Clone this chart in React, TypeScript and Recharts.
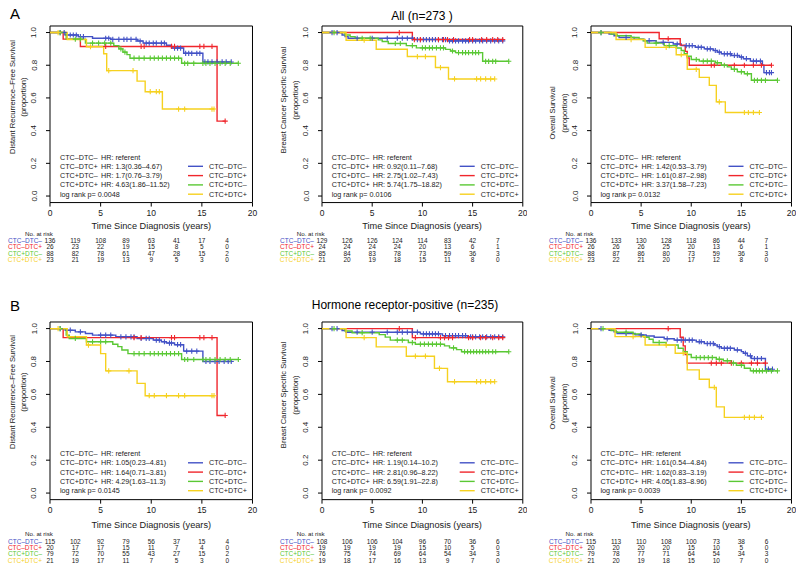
import React from 'react';
import { ComposedChart, Line, Scatter, XAxis, YAxis, ReferenceArea } from 'recharts';

const FONT = '"Liberation Sans", Arial, Helvetica, sans-serif';
const GROUPS = ['CTC–DTC–', 'CTC–DTC+', 'CTC+DTC–', 'CTC+DTC+'];
const GROUP_COLORS = ['#4352C6', '#F0262C', '#5AC834', '#F6D11F'];
const TIME_TICKS = [0, 5, 10, 15, 20];
const RISK_TIMES = [0, 2.5, 5, 7.5, 10, 12.5, 15, 17.5];
const SURV_TICKS = [0, 0.2, 0.4, 0.6, 0.8, 1.0];

// ================= A: All (n=273) =================
// Distant recurrence-free survival
const drfsAllNNSteps = [[1.5, 0.985], [2.8, 0.975], [4.2, 0.965], [6.0, 0.958], [8.6, 0.948], [9.2, 0.935], [11.5, 0.922], [12.0, 0.905], [13.2, 0.873], [15.1, 0.82]];
const drfsAllNNCens = [1.0, 1.4, 2.0, 2.3, 2.6, 3.0, 3.3, 5.5, 5.8, 6.2, 6.8, 7.3, 7.6, 8.0, 8.5, 8.9, 9.5, 9.8, 10.2, 10.5, 11.0, 11.3, 12.3, 12.6, 12.9, 13.4, 13.7, 14.0, 14.5, 14.8, 15.3, 15.6, 16.0, 16.5, 17.0, 17.4, 17.9];
const drfsAllNPSteps = [[1.3, 0.96], [3.0, 0.915], [16.5, 0.458]];
const drfsAllNPCens = [5.5, 9.0, 9.3, 12.0, 12.3, 14.8, 15.2, 16.0, 17.3];
const drfsAllPNSteps = [[1.6, 0.96], [3.5, 0.935], [6.3, 0.92], [6.8, 0.9], [7.2, 0.88], [7.6, 0.865], [7.9, 0.843], [13.0, 0.812]];
const drfsAllPNCens = [1.0, 2.5, 3.0, 4.2, 4.8, 5.4, 6.0, 7.0, 7.4, 8.3, 8.8, 9.3, 9.9, 10.3, 10.7, 11.1, 11.5, 11.9, 12.3, 12.7, 13.3, 13.6, 14.2, 15.1, 15.4, 15.8, 16.3, 16.8, 17.3, 17.8, 18.6];
const drfsAllPPSteps = [[1.7, 0.957], [3.6, 0.913], [5.3, 0.87], [5.6, 0.767], [8.6, 0.703], [9.4, 0.638], [11.1, 0.532]];
const drfsAllPPCens = [0.8, 4.0, 5.8, 8.2, 9.9, 10.5, 10.8, 12.7, 13.3, 16.0, 16.2];
const drfsAllEnds = [17.9, 17.3, 18.6, 16.2];
const drfsAllHR = ['referent', '1.3(0.36–4.67)', '1.7(0.76–3.79)', '4.63(1.86–11.52)'];
const drfsAllP = '0.0048';
const drfsAllRiskNN = [136, 119, 108, 89, 63, 41, 17, 4];
const drfsAllRiskNP = [26, 23, 22, 19, 15, 8, 5, 0];
const drfsAllRiskPN = [88, 82, 78, 61, 47, 28, 15, 2];
const drfsAllRiskPP = [23, 21, 19, 13, 9, 5, 3, 0];

// Breast cancer specific survival
const bcssAllNNSteps = [[2.0, 0.985], [2.3, 0.975], [2.6, 0.965], [9.2, 0.957], [12.5, 0.949]];
const bcssAllNNCens = [1.0, 1.5, 3.5, 5.0, 6.5, 7.5, 8.0, 8.5, 9.0, 9.5, 9.8, 10.1, 10.4, 10.7, 11.0, 11.3, 11.6, 12.0, 12.3, 12.7, 13.0, 13.3, 13.6, 14.0, 14.3, 14.6, 15.0, 15.3, 15.7, 16.0, 16.4, 16.8, 17.2, 17.6, 18.0];
const bcssAllNPSteps = [[9.0, 0.957]];
const bcssAllNPCens = [7.7, 9.2, 9.8, 11.6, 12.1, 12.5, 13.1, 14.7, 15.0, 15.9, 16.4, 17.0, 17.5, 18.0];
const bcssAllPNSteps = [[2.3, 0.985], [2.8, 0.975], [3.3, 0.965], [5.6, 0.955], [6.0, 0.945], [6.6, 0.933], [8.4, 0.92], [9.4, 0.906], [12.3, 0.897], [12.8, 0.887], [13.3, 0.877], [16.0, 0.824]];
const bcssAllPNCens = [1.2, 4.0, 4.8, 7.3, 7.8, 9.0, 10.0, 10.3, 10.7, 11.0, 11.4, 11.8, 12.1, 13.0, 13.6, 14.0, 14.3, 14.6, 15.0, 15.3, 15.6, 16.3, 16.6, 17.0, 17.3, 18.6];
const bcssAllPPSteps = [[2.4, 0.953], [5.4, 0.898], [8.5, 0.853], [11.3, 0.786], [12.6, 0.716]];
const bcssAllPPCens = [4.2, 9.5, 10.3, 11.8, 13.2, 15.4, 15.8, 16.3, 16.8, 17.2];
const bcssAllEnds = [18.0, 18.0, 18.6, 17.2];
const bcssAllHR = ['referent', '0.92(0.11–7.68)', '2.75(1.02–7.43)', '5.74(1.75–18.82)'];
const bcssAllP = '0.0106';
const bcssAllRiskNN = [129, 126, 126, 124, 114, 83, 42, 7];
const bcssAllRiskNP = [24, 24, 24, 24, 20, 13, 6, 1];
const bcssAllRiskPN = [85, 84, 83, 78, 73, 59, 36, 3];
const bcssAllRiskPP = [21, 20, 19, 18, 15, 11, 8, 0];

// Overall survival
const osAllNNSteps = [[1.8, 0.99], [2.3, 0.98], [2.8, 0.97], [4.3, 0.96], [5.3, 0.95], [6.5, 0.94], [8.2, 0.93], [9.0, 0.92], [10.4, 0.91], [11.3, 0.9], [12.2, 0.89], [12.6, 0.88], [13.0, 0.87], [14.0, 0.86], [14.8, 0.85], [15.2, 0.84], [15.9, 0.825], [17.1, 0.8], [17.25, 0.755]];
const osAllNNCens = [1.0, 3.5, 5.8, 7.2, 8.6, 9.5, 9.8, 10.1, 10.7, 11.0, 11.6, 11.9, 12.4, 12.8, 13.3, 13.6, 13.9, 14.3, 14.6, 15.0, 15.5, 16.2, 16.5, 16.9, 17.5, 17.8, 18.0];
const osAllNPSteps = [[6.8, 0.962], [8.9, 0.923], [9.4, 0.885], [9.6, 0.845], [9.8, 0.8]];
const osAllNPCens = [7.7, 12.0, 12.3, 14.3, 15.3, 16.2, 17.0, 18.0];
const osAllPNSteps = [[2.0, 0.99], [2.6, 0.98], [4.0, 0.97], [4.8, 0.96], [5.2, 0.95], [5.6, 0.935], [7.3, 0.92], [8.5, 0.905], [9.0, 0.89], [9.3, 0.87], [9.6, 0.855], [10.0, 0.835], [10.8, 0.825], [12.4, 0.815], [13.0, 0.8], [13.6, 0.79], [14.0, 0.775], [14.6, 0.76], [15.3, 0.748], [16.0, 0.708]];
const osAllPNCens = [1.0, 6.5, 7.8, 10.5, 11.2, 11.6, 12.0, 12.6, 13.3, 14.3, 15.0, 15.6, 16.3, 16.6, 17.0, 17.4, 18.6];
const osAllPPSteps = [[2.5, 0.957], [5.4, 0.909], [8.5, 0.864], [9.6, 0.775], [10.8, 0.726], [11.8, 0.677], [12.5, 0.576], [13.4, 0.511]];
const osAllPPCens = [4.0, 7.5, 9.0, 10.5, 12.8, 15.3, 15.7, 16.2, 16.8];
const osAllEnds = [18.0, 18.0, 18.6, 16.8];
const osAllHR = ['referent', '1.42(0.53–3.79)', '1.61(0.87–2.98)', '3.37(1.58–7.23)'];
const osAllP = '0.0132';
const osAllRiskNN = [136, 133, 130, 128, 118, 86, 44, 7];
const osAllRiskNP = [26, 26, 26, 25, 20, 13, 6, 1];
const osAllRiskPN = [88, 87, 86, 80, 73, 59, 36, 3];
const osAllRiskPP = [23, 22, 21, 20, 17, 12, 8, 0];

// ================= B: Hormone receptor-positive (n=235) =================
const drfsHrNNSteps = [[1.5, 0.99], [2.5, 0.98], [3.5, 0.97], [4.2, 0.96], [6.5, 0.95], [8.6, 0.94], [10.2, 0.93], [11.0, 0.92], [11.5, 0.912], [12.3, 0.902], [13.2, 0.863], [15.1, 0.8]];
const drfsHrNNCens = [1.0, 2.0, 3.0, 5.0, 5.5, 6.0, 7.0, 7.5, 8.0, 8.3, 9.0, 9.5, 9.8, 10.5, 10.8, 11.3, 11.8, 12.0, 12.6, 12.9, 13.5, 14.0, 14.5, 15.4, 15.8, 16.3, 16.7, 17.2, 17.6, 17.9];
const drfsHrNPSteps = [[1.3, 0.945], [16.5, 0.472]];
const drfsHrNPCens = [8.3, 9.0, 12.0, 12.3, 14.8, 15.2, 16.0, 17.3];
const drfsHrPNSteps = [[1.6, 0.96], [1.9, 0.94], [3.6, 0.92], [6.2, 0.905], [6.7, 0.89], [7.1, 0.87], [7.7, 0.848], [13.0, 0.812]];
const drfsHrPNCens = [1.0, 2.5, 4.2, 5.0, 5.5, 8.3, 8.8, 9.3, 9.9, 10.3, 10.7, 11.1, 11.5, 11.9, 12.3, 12.7, 13.3, 13.6, 14.2, 15.1, 15.4, 15.8, 16.3, 16.8, 17.3, 17.8, 18.6];
const drfsHrPPSteps = [[1.7, 0.95], [3.6, 0.9], [5.0, 0.848], [5.5, 0.743], [8.6, 0.667], [9.4, 0.592]];
const drfsHrPPCens = [0.8, 3.8, 5.8, 7.8, 9.8, 10.3, 11.5, 12.7, 13.3, 16.0, 16.2];
const drfsHrEnds = [17.9, 17.3, 18.6, 16.2];
const drfsHrHR = ['referent', '1.05(0.23–4.81)', '1.64(0.71–3.81)', '4.29(1.63–11.3)'];
const drfsHrP = '0.0145';
const drfsHrRiskNN = [115, 102, 92, 79, 56, 37, 15, 4];
const drfsHrRiskNP = [20, 17, 17, 15, 11, 7, 4, 0];
const drfsHrRiskPN = [79, 72, 70, 55, 43, 27, 15, 2];
const drfsHrRiskPP = [21, 19, 17, 11, 7, 5, 3, 0];

const bcssHrNNSteps = [[2.0, 0.988], [2.4, 0.978], [9.8, 0.968], [12.0, 0.957], [14.5, 0.95]];
const bcssHrNNCens = [1.0, 1.5, 3.5, 5.0, 6.5, 7.5, 8.0, 8.5, 9.0, 9.5, 10.1, 10.4, 10.7, 11.0, 11.3, 11.6, 12.3, 12.7, 13.0, 13.3, 13.6, 14.0, 14.3, 14.8, 15.0, 15.3, 15.7, 16.0, 16.4, 16.8, 17.2, 17.6, 18.0];
const bcssHrNPSteps = [[9.0, 0.945]];
const bcssHrNPCens = [7.7, 9.3, 11.8, 12.2, 12.6, 13.0, 14.6, 15.0, 15.8, 16.3, 17.0, 17.6, 18.0];
const bcssHrPNSteps = [[2.3, 0.985], [3.0, 0.975], [5.7, 0.963], [6.3, 0.948], [6.8, 0.93], [8.6, 0.915], [9.3, 0.905], [12.2, 0.895], [12.7, 0.883], [13.4, 0.872], [13.9, 0.859]];
const bcssHrPNCens = [1.2, 4.0, 7.5, 8.0, 9.0, 9.8, 10.2, 10.6, 11.0, 11.4, 11.8, 13.1, 14.2, 14.5, 14.8, 15.1, 15.4, 15.7, 16.0, 16.3, 16.6, 17.0, 17.3, 18.6];
const bcssHrPPSteps = [[2.4, 0.945], [5.4, 0.889], [8.4, 0.832], [11.2, 0.758], [12.5, 0.677]];
const bcssHrPPCens = [4.2, 9.3, 10.3, 11.7, 13.2, 15.4, 15.8, 16.3, 16.8, 17.2];
const bcssHrEnds = [18.0, 18.0, 18.6, 17.2];
const bcssHrHR = ['referent', '1.19(0.14–10.2)', '2.81(0.96–8.22)', '6.59(1.91–22.8)'];
const bcssHrP = '0.0092';
const bcssHrRiskNN = [108, 106, 106, 104, 96, 70, 36, 6];
const bcssHrRiskNP = [19, 19, 19, 19, 15, 10, 5, 0];
const bcssHrRiskPN = [76, 75, 74, 69, 64, 54, 34, 3];
const bcssHrRiskPP = [19, 18, 17, 16, 13, 9, 7, 0];

const osHrNNSteps = [[1.8, 0.99], [2.3, 0.98], [2.6, 0.97], [4.4, 0.962], [5.5, 0.955], [6.3, 0.947], [7.3, 0.938], [8.3, 0.93], [10.5, 0.92], [11.3, 0.909], [12.3, 0.9], [12.6, 0.89], [13.0, 0.88], [14.3, 0.87], [15.0, 0.86], [15.2, 0.85], [15.6, 0.834], [16.0, 0.818], [17.4, 0.753]];
const osHrNNCens = [1.0, 3.5, 5.0, 7.6, 8.6, 9.0, 9.4, 9.8, 10.1, 10.8, 11.0, 11.6, 11.9, 12.2, 12.8, 13.3, 13.6, 13.9, 14.6, 15.4, 15.9, 16.3, 16.6, 17.0, 17.7, 18.1];
const osHrNPSteps = [[8.9, 0.947], [9.2, 0.895], [9.4, 0.842], [9.6, 0.79]];
const osHrNPCens = [7.7, 12.0, 12.5, 13.0, 14.0, 15.0, 16.0, 16.6, 17.4];
const osHrPNSteps = [[2.0, 0.988], [2.5, 0.978], [4.2, 0.967], [5.0, 0.957], [5.3, 0.947], [5.8, 0.935], [6.2, 0.915], [7.5, 0.9], [8.7, 0.88], [9.2, 0.86], [9.6, 0.842], [10.0, 0.824], [12.5, 0.814], [13.2, 0.804], [14.0, 0.79], [14.5, 0.777], [15.3, 0.759], [15.9, 0.743]];
const osHrPNCens = [1.2, 3.5, 6.8, 10.5, 10.9, 11.3, 11.7, 12.1, 12.8, 13.6, 14.2, 15.0, 16.2, 16.5, 16.8, 17.1, 17.5, 18.0, 18.6];
const osHrPPSteps = [[2.4, 0.951], [5.4, 0.9], [8.4, 0.85], [9.6, 0.749], [10.8, 0.692], [11.8, 0.642], [12.5, 0.524], [13.3, 0.46]];
const osHrPPCens = [4.2, 7.5, 9.2, 12.3, 15.3, 15.8, 16.3, 17.0];
const osHrEnds = [18.1, 17.4, 18.6, 17.0];
const osHrHR = ['referent', '1.61(0.54–4.84)', '1.62(0.83–3.19)', '4.05(1.83–8.96)'];
const osHrP = '0.0039';
const osHrRiskNN = [115, 113, 110, 108, 100, 73, 38, 6];
const osHrRiskNP = [20, 20, 20, 20, 15, 10, 5, 0];
const osHrRiskPN = [79, 78, 77, 71, 64, 54, 34, 3];
const osHrRiskPP = [21, 20, 19, 18, 15, 10, 7, 0];

const YLAB_DRFS = 'Distant Recurrence–Free Survival';
const YLAB_BCSS = 'Breast Cancer Specific Survival';
const YLAB_OS = 'Overall Survival';
const TITLE_A = 'All (n=273 )';
const TITLE_B = 'Hormone receptor-positive (n=235)';
const X_TITLE = 'Time Since Diagnosis (years)';

type Step = number[];
interface PanelData {
  ylab: string;
  steps: Step[][];
  cens: number[][];
  ends: number[];
  hr: string[];
  p: string;
  risk: number[][];
}

const PANEL_A1: PanelData = { ylab: YLAB_DRFS, steps: [drfsAllNNSteps, drfsAllNPSteps, drfsAllPNSteps, drfsAllPPSteps], cens: [drfsAllNNCens, drfsAllNPCens, drfsAllPNCens, drfsAllPPCens], ends: drfsAllEnds, hr: drfsAllHR, p: drfsAllP, risk: [drfsAllRiskNN, drfsAllRiskNP, drfsAllRiskPN, drfsAllRiskPP] };
const PANEL_A2: PanelData = { ylab: YLAB_BCSS, steps: [bcssAllNNSteps, bcssAllNPSteps, bcssAllPNSteps, bcssAllPPSteps], cens: [bcssAllNNCens, bcssAllNPCens, bcssAllPNCens, bcssAllPPCens], ends: bcssAllEnds, hr: bcssAllHR, p: bcssAllP, risk: [bcssAllRiskNN, bcssAllRiskNP, bcssAllRiskPN, bcssAllRiskPP] };
const PANEL_A3: PanelData = { ylab: YLAB_OS, steps: [osAllNNSteps, osAllNPSteps, osAllPNSteps, osAllPPSteps], cens: [osAllNNCens, osAllNPCens, osAllPNCens, osAllPPCens], ends: osAllEnds, hr: osAllHR, p: osAllP, risk: [osAllRiskNN, osAllRiskNP, osAllRiskPN, osAllRiskPP] };
const PANEL_B1: PanelData = { ylab: YLAB_DRFS, steps: [drfsHrNNSteps, drfsHrNPSteps, drfsHrPNSteps, drfsHrPPSteps], cens: [drfsHrNNCens, drfsHrNPCens, drfsHrPNCens, drfsHrPPCens], ends: drfsHrEnds, hr: drfsHrHR, p: drfsHrP, risk: [drfsHrRiskNN, drfsHrRiskNP, drfsHrRiskPN, drfsHrRiskPP] };
const PANEL_B2: PanelData = { ylab: YLAB_BCSS, steps: [bcssHrNNSteps, bcssHrNPSteps, bcssHrPNSteps, bcssHrPPSteps], cens: [bcssHrNNCens, bcssHrNPCens, bcssHrPNCens, bcssHrPPCens], ends: bcssHrEnds, hr: bcssHrHR, p: bcssHrP, risk: [bcssHrRiskNN, bcssHrRiskNP, bcssHrRiskPN, bcssHrRiskPP] };
const PANEL_B3: PanelData = { ylab: YLAB_OS, steps: [osHrNNSteps, osHrNPSteps, osHrPNSteps, osHrPPSteps], cens: [osHrNNCens, osHrNPCens, osHrPNCens, osHrPPCens], ends: osHrEnds, hr: osHrHR, p: osHrP, risk: [osHrRiskNN, osHrRiskNP, osHrRiskPN, osHrRiskPP] };

// ---------------- layout (pixels) ----------------
const RH = 6.4;
const ROW_A = { y1: 33, y0: 196.5, mainH: 34.8, xTitleY: 226 };
const ROW_B = { y1: 328.5, y0: 493, mainH: 38.2, xTitleY: 525 };
const COL_1 = { left: 50, right: 252.5 };
const COL_2 = { left: 321.7, right: 522.5 };
const COL_3 = { left: 590.5, right: 791 };
const YW = 50;
const MARGIN = { top: 5, right: 5, left: 0, bottom: 4 };
const TXT = '#1a1a1a';
const RISK_FONT = 6.2;

function buildLine(steps: Step[], end: number) {
  const pts = [{ t: 0, s: 1 }];
  for (const [t, s] of steps) pts.push({ t, s });
  const last = steps.length ? steps[steps.length - 1][1] : 1;
  pts.push({ t: end, s: last });
  return pts;
}
function survAt(steps: Step[], t: number) {
  let s = 1;
  for (const [ts, v] of steps) if (ts <= t) s = v;
  return s;
}

const plusShape = (color: string) => (props: any) => {
  const { cx, cy } = props;
  if (cx == null || cy == null) return <g />;
  return <path d={`M${cx - 2.6},${cy}H${cx + 2.6}M${cx},${cy - 2.6}V${cy + 2.6}`} stroke={color} strokeWidth={1.1} fill="none" />;
};
const emptyShape = () => <g />;

const YTick = (p: any) => (
  <text x={p.x} y={p.y} transform={`rotate(-90 ${p.x} ${p.y})`} textAnchor="middle" dominantBaseline="central" fontSize={8} fill={TXT} fontFamily={FONT}>
    {Number(p.payload.value).toFixed(1)}
  </text>
);
const XTick = (p: any) => (
  <text x={p.x} y={p.y + 6} textAnchor="middle" dominantBaseline="central" fontSize={8.5} fill={TXT} fontFamily={FONT}>
    {p.payload.value}
  </text>
);
const riskTick = (values: number[], color: string, label: string) => (p: any) => {
  const i = RISK_TIMES.indexOf(p.payload.value);
  return (
    <g>
      {i === 0 && (
        <text x={p.x - 8} y={p.y + RH / 2} textAnchor="end" dominantBaseline="central" fontSize={RISK_FONT + 0.3} fill={color} fontFamily={FONT}>{label}</text>
      )}
      <text x={p.x} y={p.y + RH / 2} textAnchor="middle" dominantBaseline="central" fontSize={RISK_FONT + 0.3} fill={TXT} fontFamily={FONT}>{values[i]}</text>
    </g>
  );
};

function KMPanel({ d, row, col }: { d: PanelData; row: any; col: any }) {
  const unit = row.y0 - row.y1;
  const plotTop = row.y1 - 0.04 * unit;
  const plotH = unit * 1.08;
  const boxW = col.right - col.left;
  const width = YW + boxW + MARGIN.right;
  const height = MARGIN.top + plotH + row.mainH + 4 * RH + MARGIN.bottom;
  return (
    <div style={{ position: 'absolute', left: col.left - YW, top: plotTop - MARGIN.top }}>
      <ComposedChart width={width} height={height} margin={MARGIN}>
        <XAxis xAxisId="main" type="number" dataKey="t" domain={[0, 20]} ticks={TIME_TICKS} allowDataOverflow interval={0}
          height={row.mainH} axisLine={false} tickSize={4} tickMargin={0} tickLine={{ stroke: '#000', strokeWidth: 1 }} tick={XTick} />
        {d.risk.map((r, i) => (
          <XAxis key={'r' + i} xAxisId={'r' + i} type="number" dataKey="t" domain={[0, 20]} ticks={RISK_TIMES} allowDataOverflow interval={0}
            height={RH} axisLine={false} tickLine={false} tickSize={0} tickMargin={0} tick={riskTick(r, GROUP_COLORS[i], GROUPS[i])} />
        ))}
        <YAxis yAxisId="y" type="number" dataKey="s" domain={[-0.04, 1.04]} ticks={SURV_TICKS} allowDataOverflow interval={0}
          width={YW} axisLine={false} tickSize={4} tickMargin={12} tickLine={{ stroke: '#000', strokeWidth: 1 }} tick={YTick} />
        <ReferenceArea xAxisId="main" yAxisId="y" x1={0} x2={20} y1={-0.04} y2={1.04} fill="none" fillOpacity={0} stroke="#000" strokeWidth={1} ifOverflow="visible" />
        {d.risk.map((r, i) => (
          <Scatter key={'rs' + i} xAxisId={'r' + i} yAxisId="y" dataKey="s" data={RISK_TIMES.map((t, j) => ({ t, s: 0, n: r[j] }))}
            shape={emptyShape} isAnimationActive={false} />
        ))}
        {d.steps.map((st, i) => (
          <Line key={'l' + i} xAxisId="main" yAxisId="y" type="stepAfter" dataKey="s" data={buildLine(st, d.ends[i])}
            stroke={GROUP_COLORS[i]} strokeWidth={1.4} dot={false} activeDot={false} isAnimationActive={false} />
        ))}
        {d.cens.map((cs, i) => (
          <Scatter key={'c' + i} xAxisId="main" yAxisId="y" dataKey="s" data={cs.map((t) => ({ t, s: survAt(d.steps[i], t) }))}
            shape={plusShape(GROUP_COLORS[i])} isAnimationActive={false} />
        ))}
      </ComposedChart>
    </div>
  );
}

const LEG_ROWS = [-39.5, -30.2, -20.9, -11.6, -2.3];

function Overlay({ d, row, col, ylabY }: { d: PanelData; row: any; col: any; ylabY: number }) {
  const cx = (col.left + col.right) / 2;
  const firstRisk = row.y0 + 6.54 + row.mainH + RH / 2;
  return (
    <g fontFamily={FONT} fill={TXT}>
      <text x={col.left - 38} y={ylabY} transform={`rotate(-90 ${col.left - 38} ${ylabY})`} textAnchor="middle" dominantBaseline="central" fontSize={7.6}>{d.ylab}</text>
      <text x={col.left - 26.5} y={ylabY} transform={`rotate(-90 ${col.left - 26.5} ${ylabY})`} textAnchor="middle" dominantBaseline="central" fontSize={7.6}>(proportion)</text>
      {GROUPS.map((g, i) => (
        <g key={'lg' + i}>
          <text x={col.left + 10} y={row.y0 + LEG_ROWS[i]} dominantBaseline="central" fontSize={7.2}>{g}</text>
          <text x={col.left + 51} y={row.y0 + LEG_ROWS[i]} dominantBaseline="central" fontSize={7.2}>{'HR: ' + d.hr[i]}</text>
          <line x1={col.left + 138} x2={col.left + 153} y1={row.y0 + LEG_ROWS[i + 1]} y2={row.y0 + LEG_ROWS[i + 1]} stroke={GROUP_COLORS[i]} strokeWidth={1.4} />
          <text x={col.left + 159} y={row.y0 + LEG_ROWS[i + 1]} dominantBaseline="central" fontSize={7.2}>{g}</text>
        </g>
      ))}
      <text x={col.left + 10} y={row.y0 + LEG_ROWS[4]} dominantBaseline="central" fontSize={7.2}>{'log rank p= ' + d.p}</text>
      <text x={cx} y={row.xTitleY} textAnchor="middle" dominantBaseline="central" fontSize={9.2}>{X_TITLE}</text>
      <text x={col.left - 11} y={firstRisk - 7.3} textAnchor="middle" dominantBaseline="central" fontSize={RISK_FONT}>No. at risk</text>
    </g>
  );
}

export default function App() {
  return (
    <div style={{ position: 'absolute', left: 0, top: 0, width: 800, height: 572, background: '#fff', overflow: 'hidden', fontFamily: FONT }}>
      <KMPanel d={PANEL_A1} row={ROW_A} col={COL_1} />
      <KMPanel d={PANEL_A2} row={ROW_A} col={COL_2} />
      <KMPanel d={PANEL_A3} row={ROW_A} col={COL_3} />
      <KMPanel d={PANEL_B1} row={ROW_B} col={COL_1} />
      <KMPanel d={PANEL_B2} row={ROW_B} col={COL_2} />
      <KMPanel d={PANEL_B3} row={ROW_B} col={COL_3} />
      <svg width={800} height={572} style={{ position: 'absolute', left: 0, top: 0, pointerEvents: 'none' }}>
        <text x={15} y={13} textAnchor="middle" dominantBaseline="central" fontSize={15} fontFamily={FONT} fill="#000">A</text>
        <text x={15} y={305} textAnchor="middle" dominantBaseline="central" fontSize={15} fontFamily={FONT} fill="#000">B</text>
        <text x={422} y={16} textAnchor="middle" dominantBaseline="central" fontSize={12} fontFamily={FONT} fill="#000">{TITLE_A}</text>
        <text x={405} y={305} textAnchor="middle" dominantBaseline="central" fontSize={12} fontFamily={FONT} fill="#000">{TITLE_B}</text>
        <Overlay d={PANEL_A1} row={ROW_A} col={COL_1} ylabY={97} />
        <Overlay d={PANEL_A2} row={ROW_A} col={COL_2} ylabY={100} />
        <Overlay d={PANEL_A3} row={ROW_A} col={COL_3} ylabY={113} />
        <Overlay d={PANEL_B1} row={ROW_B} col={COL_1} ylabY={392} />
        <Overlay d={PANEL_B2} row={ROW_B} col={COL_2} ylabY={395} />
        <Overlay d={PANEL_B3} row={ROW_B} col={COL_3} ylabY={403} />
      </svg>
    </div>
  );
}
